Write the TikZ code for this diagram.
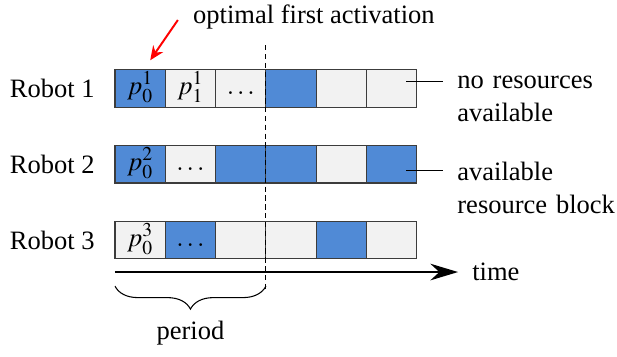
\documentclass[tikz,border=0pt]{standalone}
\usepackage{mathptmx}
\usepackage{fontspec}
\setmainfont{Liberation Serif}
\usetikzlibrary{positioning,arrows.meta,decorations.pathreplacing}

\definecolor{resblue}{RGB}{80,138,214}
\definecolor{resgray}{RGB}{242,242,242}
\definecolor{cellline}{RGB}{60,60,60}

\tikzset{
  cell/.style={draw=cellline, line width=0.6pt, minimum width=1cm, minimum height=0.74cm,
    inner sep=0pt, outer sep=0pt, text height=2ex, text depth=0.5ex},
  freeblock/.style={cell, fill=resblue},
  busyblock/.style={cell, fill=resgray},
  note/.style={text width=4.5cm, align=left, inner xsep=0.28cm, anchor=base west},
}

\begin{document}
\begin{tikzpicture}[font=\fontsize{15}{18.5}\selectfont]
    \useasboundingbox (-2.286,-1.67) rectangle (9.98,5.408);
    % robot 1
    \node[freeblock] (r1c1) at (0.5,3.65) {$p_0^1$};
    \node[busyblock] (r1c2) at (1.5,3.65) {$p_1^1$};
    \node[busyblock] (r1c3) at (2.5,3.65) {$\dots$};
    \node[freeblock] (r1c4) at (3.5,3.65) {};
    \node[busyblock] (r1c5) at (4.5,3.65) {};
    \node[busyblock] (r1c6) at (5.5,3.65) {};
    % robot 2
    \node[freeblock] (r2c1) at (0.5,2.14) {$p_0^2$};
    \node[busyblock] (r2c2) at (1.5,2.14) {$\dots$};
    \node[freeblock] (r2c3) at (2.5,2.14) {};
    \node[freeblock] (r2c4) at (3.5,2.14) {};
    \node[busyblock] (r2c5) at (4.5,2.14) {};
    \node[freeblock] (r2c6) at (5.5,2.14) {};
    % robot 3
    \node[busyblock] (r3c1) at (0.5,0.63) {$p_0^3$};
    \node[freeblock] (r3c2) at (1.5,0.63) {$\dots$};
    \node[busyblock] (r3c3) at (2.5,0.63) {};
    \node[busyblock] (r3c4) at (3.5,0.63) {};
    \node[freeblock] (r3c5) at (4.5,0.63) {};
    \node[busyblock] (r3c6) at (5.5,0.63) {};

    \node[left=0.28cm of r1c1] (robot1) {Robot 1};
    \node[left=0.28cm of r2c1] (robot2) {Robot 2};
    \node[left=0.28cm of r3c1] (robot3) {Robot 3};

    % time axis and period
    \coordinate (t0) at (0,0);
    \coordinate (t1) at (6.82,0);
    \draw[line width=1.1pt, -{Stealth[length=5.5mm, width=3.3mm]}] (t0) -- (t1);
    \node[right=0.16cm of t1] (time) {time};

    \coordinate (ptop) at (3,4.51);
    \coordinate (pbot) at (3,-0.40);
    \draw[line width=0.6pt, dash pattern=on 3pt off 2pt] (ptop) -- (pbot);

    \coordinate (b0) at (0,-0.28);
    \coordinate (b1) at (3,-0.28);
    \draw[line width=0.6pt, decorate, decoration={brace, mirror, amplitude=13pt}] (b0) -- (b1);
    \node (period) at (1.5,-1.21) {period};

    % first activation
    \node[anchor=west] (optact) at (1.43,5.07) {optimal first activation};
    \coordinate (a0) at (1.25,5.01);
    \coordinate (a1) at (0.70,4.21);
    \draw[red, line width=1.1pt, -{Stealth[length=2.8mm, width=2.4mm]}] (a0) -- (a1);

    % legend
    \node[note] (nores) at (6.52,3.64) {no resources\\available};
    \coordinate (nr) at (5.79,3.78);
    \draw[line width=0.6pt] (nr) -- (nr -| nores.west);
    \node[note] (avail) at (6.52,1.81) {available\\resource block};
    \coordinate (av) at (5.79,2.01);
    \draw[line width=0.6pt] (av) -- (av -| avail.west);
\end{tikzpicture}
\end{document}
